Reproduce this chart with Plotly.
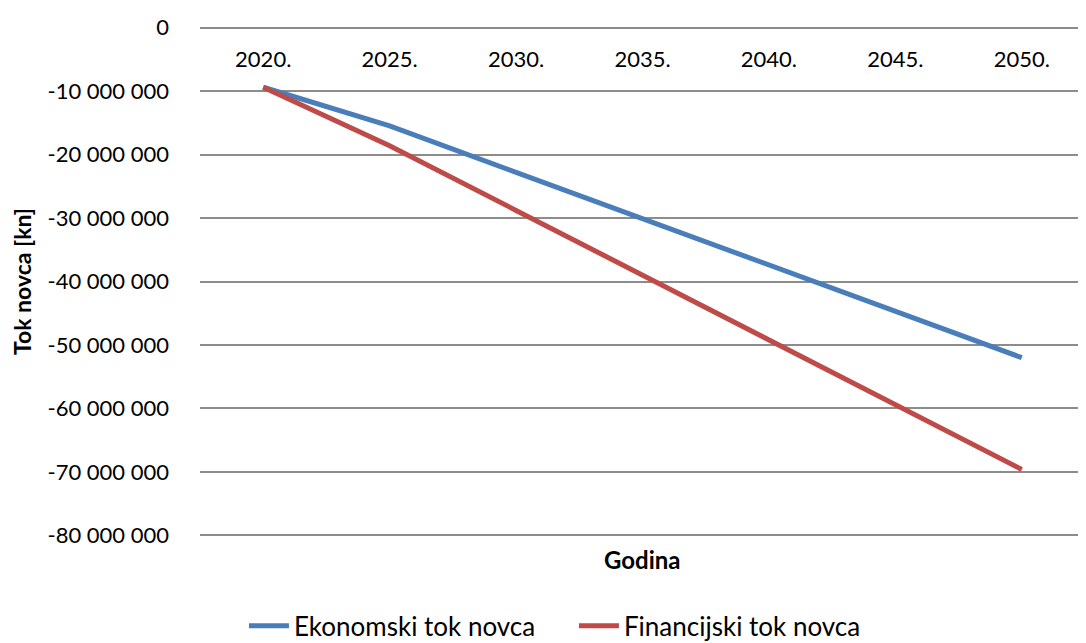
import plotly.graph_objects as go

years = ["2020.", "2025.", "2030.", "2035.", "2040.", "2045.", "2050."]
ekonomski = [-9.4e6, -15.5e6, -22.8e6, -30.1e6, -37.4e6, -44.7e6, -52.0e6]
financijski = [-9.4e6, -18.6e6, -28.8e6, -39.0e6, -49.2e6, -59.4e6, -69.6e6]

y_ticks = [0, -10e6, -20e6, -30e6, -40e6, -50e6, -60e6, -70e6, -80e6]
y_labels = ["0", "-10 000 000", "-20 000 000", "-30 000 000", "-40 000 000",
            "-50 000 000", "-60 000 000", "-70 000 000", "-80 000 000"]

FONT = "Lato"

fig = go.Figure()
fig.add_trace(go.Scatter(
    x=years, y=ekonomski, mode="lines", name="Ekonomski tok novca",
    line={"color": "#4a7ebb", "width": 5},
))
fig.add_trace(go.Scatter(
    x=years, y=financijski, mode="lines", name="Financijski tok novca",
    line={"color": "#be4b48", "width": 5},
))

# page body adds an 8px margin, so the figure is 8px smaller than the window
fig.update_layout(
    width=1078,
    height=635,
    paper_bgcolor="white",
    plot_bgcolor="white",
    margin={"l": 192, "r": 1, "t": 18, "b": 106},
    font={"family": FONT, "size": 22, "color": "black"},
    showlegend=True,
    legend={
        "orientation": "h", "xref": "container", "yref": "container",
        "x": 0.525, "xanchor": "center", "y": 0.027, "yanchor": "middle",
        "font": {"size": 26}, "itemwidth": 40, "entrywidth": 275,
    },
    annotations=[{
        "text": "<b>Godina</b>", "xref": "paper", "x": 0.5, "yref": "paper", "y": -0.012,
        "yanchor": "top", "showarrow": False, "font": {"size": 24}}],
)

fig.update_xaxes(
    type="category", anchor="free", position=1, side="bottom", ticklabelstandoff=18,
    showgrid=False, showline=False, zeroline=False,
    ticks="", range=[-0.5, 6.5], automargin=False,
)
fig.update_yaxes(
    range=[-80.25e6, 0.25e6], tickvals=y_ticks, ticktext=y_labels,
    showgrid=True, gridcolor="#8c8c8c", gridwidth=1.5, zeroline=False,
    showline=False, ticks="", ticklabelstandoff=30, automargin=False,
    title={"text": "<b>Tok novca [kn]</b>", "standoff": 14, "font": {"size": 23}},
)

fig.write_html("out.html")
